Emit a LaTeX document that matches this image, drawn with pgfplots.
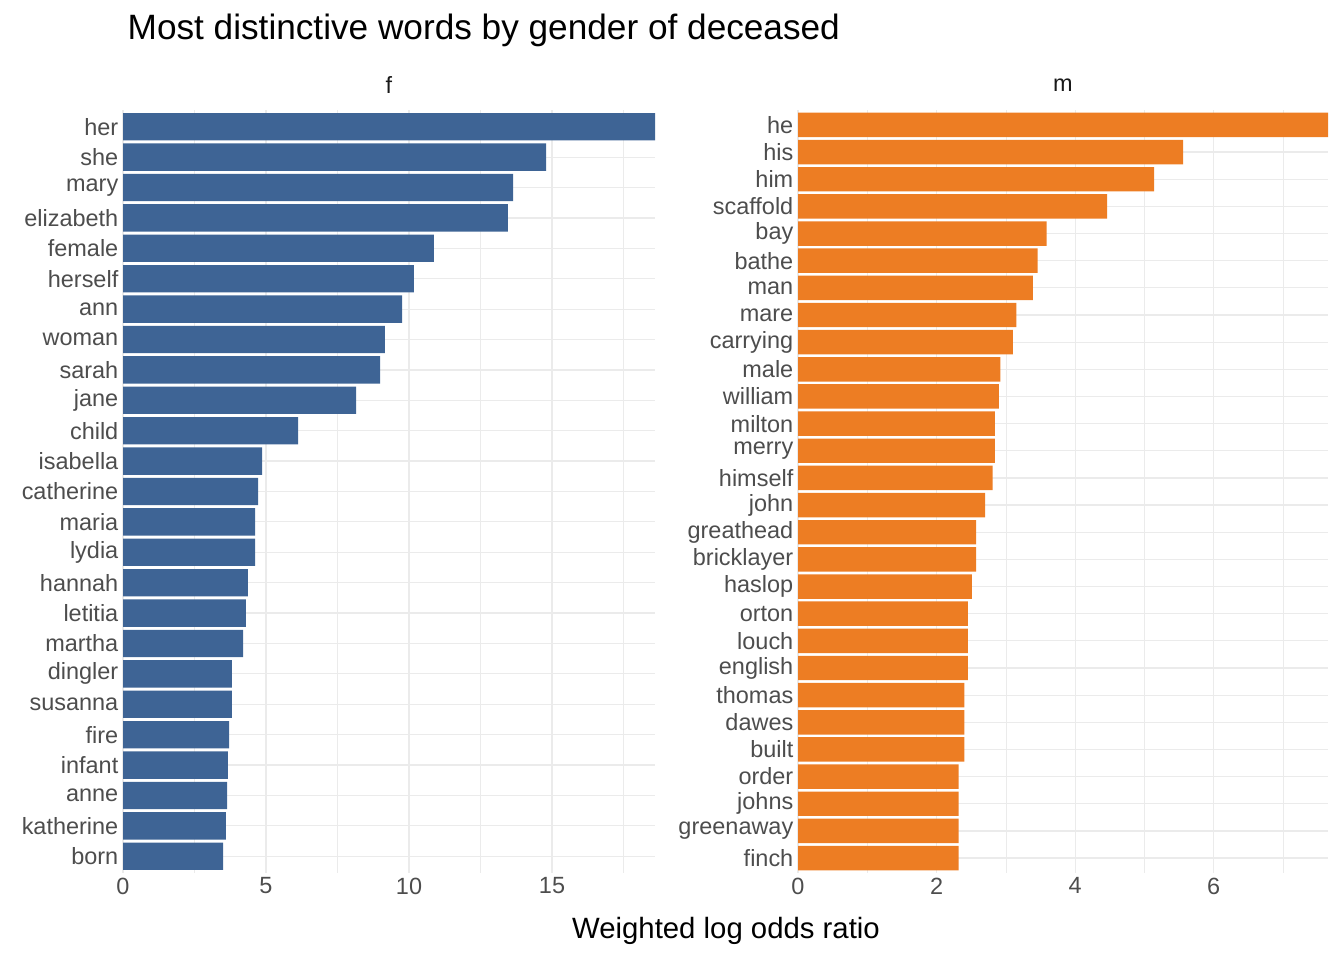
\documentclass[border=0pt]{standalone}
\usepackage{pgfplots}
\pgfplotsset{compat=1.18}
\usepackage{fontspec}
\setmainfont{Liberation Sans}
\definecolor{fblue}{HTML}{3E6495}
\definecolor{morange}{HTML}{ED7D23}
\definecolor{gridc}{HTML}{EBEBEB}
\definecolor{tickc}{HTML}{4D4D4D}
\pgfplotsset{
  common/.style={
    scale only axis, anchor=south west,
    xbar, bar width=0.9, bar shift=0pt,
    axis line style={draw=none},
    major tick length=0pt, minor tick length=0pt,
    xmajorgrids, xminorgrids, ymajorgrids,
    major grid style={gridc, line width=0.9pt},
    minor grid style={gridc, line width=0.5pt},
    ytick=data,
    tick label style={font=\fontsize{17.6}{20}\selectfont, text=tickc},
    /pgf/number format/assume math mode=true,
    xmin=0, ytick distance=1,
    enlarge x limits=false,
    height=572.25pt,
  }
}
\begin{document}
\begin{tikzpicture}
\path (0,0) rectangle (1008pt,720pt);
\node[anchor=base west, font=\fontsize{26.4}{30}\selectfont] at (92.25pt,690pt) {Most distinctive words by gender of deceased};
\node[font=\fontsize{17.6}{20}\selectfont, text=black!90] at (291.75pt,656pt) {f};
\node[font=\fontsize{17.6}{20}\selectfont, text=black!90] at (797.25pt,656pt) {m};
\node[font=\fontsize{22}{26}\selectfont] at (544.5pt,22pt) {Weighted log odds ratio};
\begin{axis}[common, at={(92.25pt,65.25pt)}, width=399pt,
  xmax=18.6, ymin=0.45, ymax=25.55,
  xtick={0,5,10,15}, minor xtick={2.5,7.5,12.5,17.5},
  ytick={1,...,25},
  yticklabels={born,katherine,anne,infant,fire,susanna,dingler,martha,letitia,hannah,lydia,maria,catherine,isabella,child,jane,sarah,woman,ann,herself,female,elizabeth,mary,she,her}]
\addplot[fill=fblue, draw=none] coordinates {
(3.50,1) (3.60,2) (3.64,3) (3.67,4) (3.71,5) (3.81,6) (3.81,7) (4.20,8) (4.30,9) (4.37,10)
(4.62,11) (4.62,12) (4.72,13) (4.86,14) (6.12,15) (8.15,16) (8.99,17) (9.16,18) (9.76,19) (10.17,20)
(10.87,21) (13.46,22) (13.64,23) (14.79,24) (18.6,25)};
\end{axis}
\begin{axis}[common, at={(598.5pt,65.25pt)}, width=397.5pt,
  xmax=7.65, ymin=0.45, ymax=28.55,
  xtick={0,2,4,6}, minor xtick={1,3,5,7},
  ytick={1,...,28},
  yticklabels={finch,greenaway,johns,order,built,dawes,thomas,english,louch,orton,haslop,bricklayer,greathead,john,himself,merry,milton,william,male,carrying,mare,man,bathe,bay,scaffold,him,his,he}]
\addplot[fill=morange, draw=none] coordinates {
(2.32,1) (2.32,2) (2.32,3) (2.32,4) (2.40,5) (2.40,6) (2.40,7) (2.45,8) (2.45,9) (2.45,10)
(2.51,11) (2.57,12) (2.57,13) (2.70,14) (2.81,15) (2.84,16) (2.84,17) (2.90,18) (2.92,19) (3.10,20)
(3.15,21) (3.39,22) (3.46,23) (3.59,24) (4.46,25) (5.14,26) (5.56,27) (7.65,28)};
\end{axis}
\end{tikzpicture}
\end{document}
